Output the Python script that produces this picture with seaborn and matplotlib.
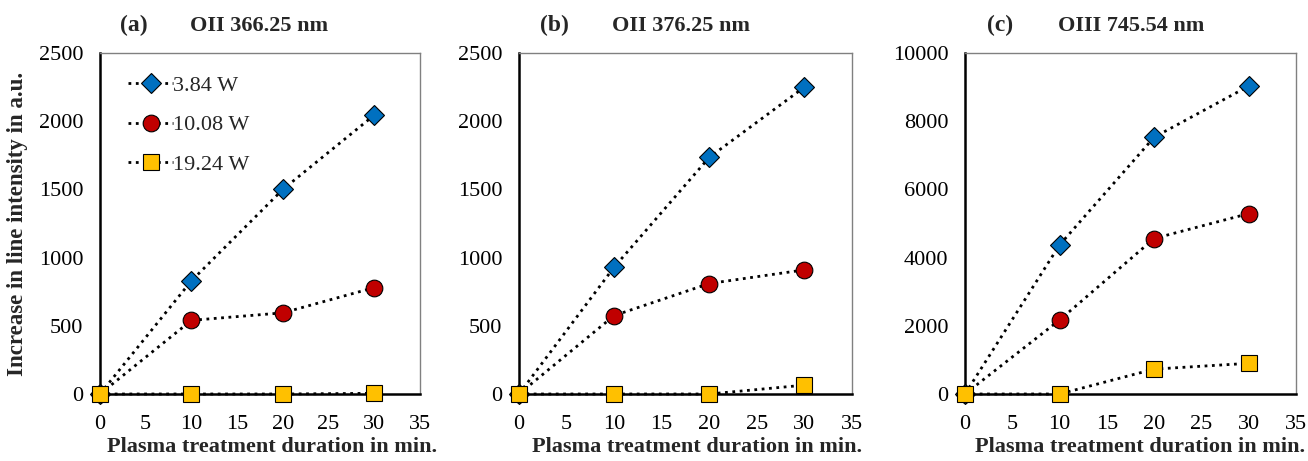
import pandas as pd
import matplotlib.pyplot as plt
import seaborn as sns

# Data
duration = [0, 10, 20, 30]
powers = ["3.84 W", "10.08 W", "19.24 W"]

a_384 = [0, 830, 1500, 2045]
a_1008 = [0, 540, 595, 780]
a_1924 = [0, 0, 0, 5]

b_384 = [0, 930, 1735, 2250]
b_1008 = [0, 575, 810, 910]
b_1924 = [0, 0, 0, 65]

c_384 = [0, 4370, 7530, 9030]
c_1008 = [0, 2170, 4560, 5290]
c_1924 = [0, 0, 730, 900]

panels = [
    ("(a)", "OII 366.25 nm", [a_384, a_1008, a_1924], 2500, 500),
    ("(b)", "OII 376.25 nm", [b_384, b_1008, b_1924], 2500, 500),
    ("(c)", "OIII 745.54 nm", [c_384, c_1008, c_1924], 10000, 2000),
]

markers = ["D", "o", "s"]
colors = ["#0070C0", "#C00000", "#FFC000"]
msizes = [10, 12, 12]

sns.set_style("white")
plt.rcParams['font.family'] = ['Liberation Serif', 'DejaVu Serif']

fig = plt.figure(figsize=(13.08, 4.61), dpi=100)
W, H = 1308, 461
boxes = [(100, 420), (519, 852), (965, 1296)]
xlabel_right = [437, 862, 1305]
top, bottom = 53, 394

for i, (tag, name, series, ymax, ystep) in enumerate(panels):
    l, r = boxes[i]
    ax = fig.add_axes([l / W, 1 - bottom / H, (r - l) / W, (bottom - top) / H])
    for vals, lab, m, c, ms in zip(series, powers, markers, colors, msizes):
        df = pd.DataFrame({"x": duration, "y": vals})
        sns.lineplot(data=df, x="x", y="y", ax=ax, color="black", linestyle=":",
                     linewidth=2, marker=m, markersize=ms, markerfacecolor=c,
                     markeredgecolor="black", markeredgewidth=0.8,
                     label=lab, clip_on=False, zorder=3)
    ax.set_xlim(0, 35)
    ax.set_ylim(0, ymax)
    ax.set_xticks(range(0, 36, 5))
    ax.set_yticks(range(0, ymax + 1, ystep))
    ax.tick_params(direction="inout", length=8, width=1, labelsize=16,
                   colors="black")
    ax.tick_params(axis="x", pad=11)
    ax.tick_params(axis="y", pad=8)
    for s in ["left", "bottom"]:
        ax.spines[s].set_color("black")
        ax.spines[s].set_linewidth(1.8)
    for s in ["top", "right"]:
        ax.spines[s].set_color("#808080")
        ax.spines[s].set_linewidth(1.0)
    ax.set_xlabel("")
    ax.set_ylabel("")
    ax.text(0.107, 1.08, tag, transform=ax.transAxes, fontsize=17,
            fontweight="bold", ha="center", va="center")
    ax.text(0.28, 1.08, name, transform=ax.transAxes, fontsize=16,
            fontweight="bold", ha="left", va="center")
    fig.text(xlabel_right[i] / W, 1 - 447 / H, "Plasma treatment duration in min.",
             fontsize=16, fontweight="bold", ha="right", va="center")
    if i == 0:
        ax.legend(loc="upper left", frameon=False, fontsize=16,
                  labelspacing=0.85, handlelength=2.0, handletextpad=0.0,
                  borderaxespad=0.3, bbox_to_anchor=(0.04, 0.98))
        ax.set_ylabel("Increase in line intensity in a.u.", fontsize=16.5,
                      fontweight="bold", labelpad=8)
    else:
        ax.get_legend().remove()

fig.savefig("out.png", dpi=100)
